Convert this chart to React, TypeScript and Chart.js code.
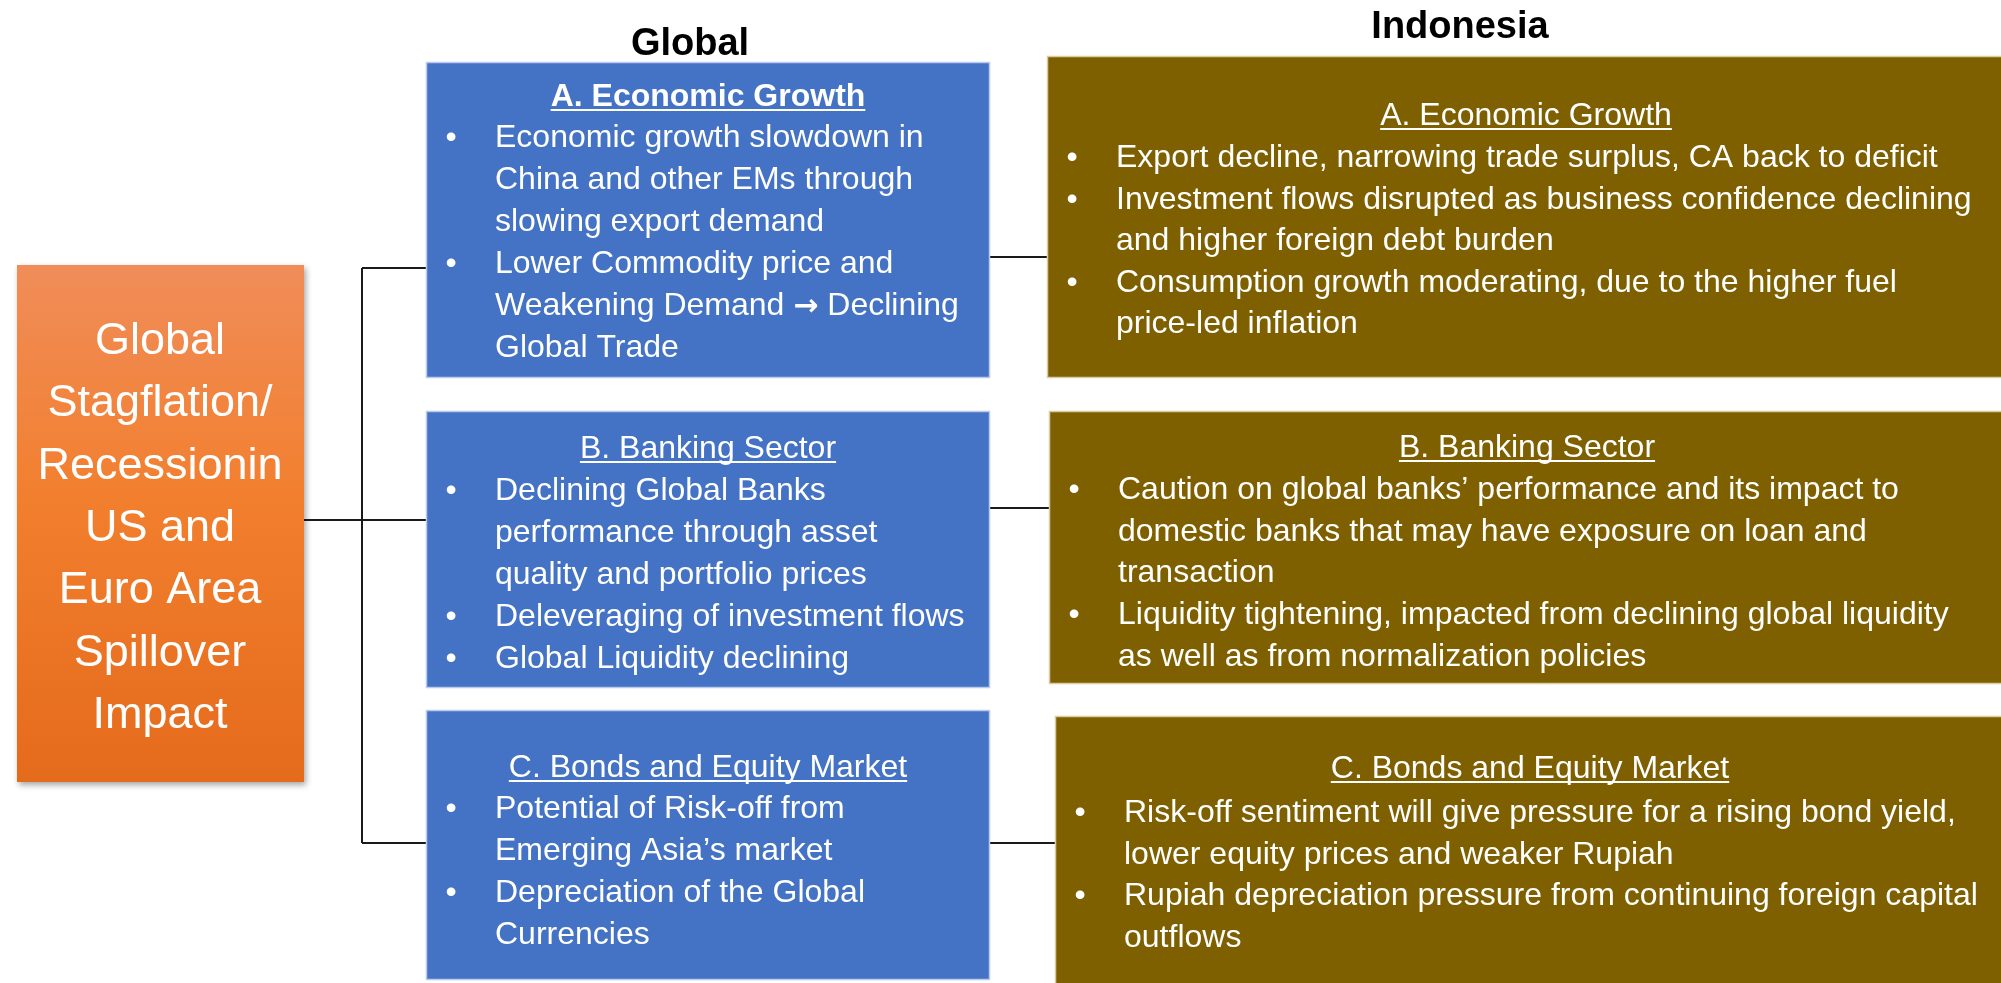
import React, { useEffect, useRef } from "react";
import { Chart, registerables } from "chart.js";

Chart.register(...registerables);

// ---------- DATA (text content of the diagram) ----------
const headerGlobal = "Global";
const headerIndonesia = "Indonesia";

const rootLines = ["Global", "Stagflation/", "Recessionin", "US and", "Euro Area", "Spillover", "Impact"];

const globalTitles = ["A. Economic Growth", "B. Banking Sector", "C. Bonds and Equity Market"];
const globalBulletsA = [
  ["Economic growth slowdown in", "China and other EMs through", "slowing export demand"],
  ["Lower Commodity price and", "Weakening Demand \u2192 Declining", "Global Trade"],
];
const globalBulletsB = [
  ["Declining Global Banks", "performance through asset", "quality and portfolio prices"],
  ["Deleveraging of investment flows"],
  ["Global Liquidity declining"],
];
const globalBulletsC = [
  ["Potential of Risk-off from", "Emerging Asia\u2019s market"],
  ["Depreciation of the Global", "Currencies"],
];

const indoTitles = ["A. Economic Growth", "B. Banking Sector", "C. Bonds and Equity Market"];
const indoBulletsA = [
  ["Export decline, narrowing trade surplus, CA back to deficit"],
  ["Investment flows disrupted as business confidence declining", "and higher foreign debt burden"],
  ["Consumption growth moderating, due to the higher fuel", "price-led inflation"],
];
const indoBulletsB = [
  ["Caution on global banks\u2019 performance and its impact to", "domestic banks that may have exposure on loan and", "transaction"],
  ["Liquidity tightening, impacted from declining global liquidity", "as well as from normalization policies"],
];
const indoBulletsC = [
  ["Risk-off sentiment will give pressure for a rising bond yield,", "lower equity prices and weaker Rupiah"],
  ["Rupiah depreciation pressure from continuing foreign capital", "outflows"],
];

// ---------- LAYOUT & STYLE ----------
const W = 2001;
const H = 983;
const FONT = '"Liberation Sans", Arial, sans-serif';
const ARROW_FONT = '"DejaVu Sans", sans-serif';

const ROOT = { x0: 17, y0: 265, x1: 304, y1: 782, cx: 160, base: 354, lh: 62.3, size: 45 };

type Box = { x0: number; y0: number; x1: number; y1: number; titleBase: number; firstBase: number; lh: number; boldTitle: boolean };

const GLOBAL_BOXES: Box[] = [
  { x0: 427, y0: 63, x1: 989, y1: 377, titleBase: 106, firstBase: 147, lh: 42, boldTitle: true },
  { x0: 427, y0: 412, x1: 989, y1: 687, titleBase: 458, firstBase: 500, lh: 42, boldTitle: false },
  { x0: 427, y0: 711, x1: 989, y1: 979, titleBase: 777, firstBase: 818, lh: 42, boldTitle: false },
];
const INDO_BOXES: Box[] = [
  { x0: 1048, y0: 57, x1: 2008, y1: 377, titleBase: 125, firstBase: 167, lh: 41.5, boldTitle: false },
  { x0: 1050, y0: 412, x1: 2008, y1: 683, titleBase: 457, firstBase: 499, lh: 41.7, boldTitle: false },
  { x0: 1056, y0: 717, x1: 2008, y1: 995, titleBase: 778, firstBase: 822, lh: 41.7, boldTitle: false },
];

const CONNECT_V = { x: 362, y0: 268, y1: 843 };
const CONNECT_H = [
  { x0: 362, x1: 427, y: 268 },
  { x0: 304, x1: 427, y: 520 },
  { x0: 362, x1: 427, y: 843 },
  { x0: 989, x1: 1048, y: 257 },
  { x0: 989, x1: 1050, y: 508 },
  { x0: 989, x1: 1056, y: 843 },
];

const BLUE = "#4472C4";
const BLUE_EDGE = "#B9CAEA";
const GOLD = "#7F6000";
const GOLD_EDGE = "#D9CCA3";

const TEXT_SIZE = 32;
const HEADER_SIZE = 38;

const diagramPlugin = {
  id: "diagram",
  afterDraw(chart: any) {
    const { ctx, scales } = chart;
    const X = (v: number) => scales.x.getPixelForValue(v);
    const Y = (v: number) => scales.y.getPixelForValue(v);
    ctx.save();

    // connectors
    ctx.strokeStyle = "#1a1a1a";
    ctx.lineWidth = 2;
    ctx.beginPath();
    ctx.moveTo(X(CONNECT_V.x), Y(CONNECT_V.y0));
    ctx.lineTo(X(CONNECT_V.x), Y(CONNECT_V.y1));
    CONNECT_H.forEach((h) => {
      ctx.moveTo(X(h.x0), Y(h.y));
      ctx.lineTo(X(h.x1), Y(h.y));
    });
    ctx.stroke();

    // root box with gradient and shadow
    ctx.save();
    const g = ctx.createLinearGradient(0, Y(ROOT.y0), 0, Y(ROOT.y1));
    g.addColorStop(0, "#F08D59");
    g.addColorStop(0.45, "#F27F2E");
    g.addColorStop(1, "#E46B1B");
    ctx.shadowColor = "rgba(0,0,0,0.35)";
    ctx.shadowBlur = 6;
    ctx.shadowOffsetX = 2;
    ctx.shadowOffsetY = 3;
    ctx.fillStyle = g;
    ctx.fillRect(X(ROOT.x0), Y(ROOT.y0), X(ROOT.x1) - X(ROOT.x0), Y(ROOT.y1) - Y(ROOT.y0));
    ctx.restore();

    ctx.fillStyle = "#FFFFFF";
    ctx.textAlign = "center";
    ctx.textBaseline = "alphabetic";
    ctx.font = `${ROOT.size}px ${FONT}`;
    rootLines.forEach((ln, i) => {
      ctx.fillText(ln, X(ROOT.cx), Y(ROOT.base + i * ROOT.lh));
    });

    // headers
    ctx.fillStyle = "#000000";
    ctx.font = `bold ${HEADER_SIZE}px ${FONT}`;
    ctx.fillText(headerGlobal, X(690), Y(55));
    ctx.fillText(headerIndonesia, X(1460), Y(38));

    // draws a left-aligned line; the arrow glyph gets a bolder font like the original
    const drawLine = (text: string, x: number, y: number) => {
      const parts = text.split("\u2192");
      let cx = x;
      parts.forEach((p, i) => {
        ctx.font = `${TEXT_SIZE}px ${FONT}`;
        ctx.fillText(p, cx, y);
        cx += ctx.measureText(p).width;
        if (i < parts.length - 1) {
          ctx.font = `bold ${TEXT_SIZE - 2}px ${ARROW_FONT}`;
          ctx.fillText("\u2192", cx, y);
          cx += ctx.measureText("\u2192").width;
        }
      });
      ctx.font = `${TEXT_SIZE}px ${FONT}`;
    };

    const drawBox = (b: Box, fill: string, edge: string, title: string, bullets: string[][]) => {
      const x0 = X(b.x0), y0 = Y(b.y0), x1 = X(b.x1), y1 = Y(b.y1);
      ctx.fillStyle = fill;
      ctx.fillRect(x0, y0, x1 - x0, y1 - y0);
      ctx.strokeStyle = edge;
      ctx.lineWidth = 1.5;
      ctx.strokeRect(x0 - 0.5, y0 - 0.5, x1 - x0 + 1, y1 - y0 + 1);

      ctx.fillStyle = "#FFFFFF";
      ctx.strokeStyle = "#FFFFFF";
      // title, centered, underlined
      ctx.font = `${b.boldTitle ? "bold " : ""}${TEXT_SIZE}px ${FONT}`;
      ctx.textAlign = "center";
      const cx = X((b.x0 + Math.min(b.x1, 2004)) / 2);
      const ty = Y(b.titleBase);
      ctx.fillText(title, cx, ty);
      const tw = ctx.measureText(title).width;
      ctx.lineWidth = 2;
      ctx.beginPath();
      ctx.moveTo(cx - tw / 2, ty + 4);
      ctx.lineTo(cx + tw / 2, ty + 4);
      ctx.stroke();

      // bullets
      ctx.font = `${TEXT_SIZE}px ${FONT}`;
      let line = 0;
      bullets.forEach((lines) => {
        ctx.textAlign = "center";
        ctx.fillText("\u2022", X(b.x0 + 24), Y(b.firstBase + line * b.lh));
        ctx.textAlign = "left";
        lines.forEach((ln) => {
          drawLine(ln, X(b.x0 + 68), Y(b.firstBase + line * b.lh));
          line++;
        });
      });
    };

    const gb = [globalBulletsA, globalBulletsB, globalBulletsC];
    GLOBAL_BOXES.forEach((b, i) => drawBox(b, BLUE, BLUE_EDGE, globalTitles[i], gb[i]));
    const ib = [indoBulletsA, indoBulletsB, indoBulletsC];
    INDO_BOXES.forEach((b, i) => drawBox(b, GOLD, GOLD_EDGE, indoTitles[i], ib[i]));

    ctx.restore();
  },
};

export default function App() {
  const ref = useRef<HTMLCanvasElement | null>(null);
  useEffect(() => {
    document.body.style.margin = "0";
    const canvas = ref.current;
    if (!canvas) return;
    const chart = new Chart(canvas, {
      type: "scatter",
      data: { datasets: [{ data: [] }] },
      options: {
        responsive: false,
        animation: false,
        devicePixelRatio: 1,
        events: [],
        layout: { padding: 0 },
        plugins: { legend: { display: false }, tooltip: { enabled: false } },
        scales: {
          x: { type: "linear", min: 0, max: W, display: false },
          y: { type: "linear", min: 0, max: H, reverse: true, display: false },
        },
      },
      plugins: [diagramPlugin],
    } as any);
    return () => chart.destroy();
  }, []);
  return (
    <div style={{ width: W, height: H, overflow: "hidden", background: "#FFFFFF" }}>
      <canvas ref={ref} width={W} height={H} style={{ display: "block", width: W, height: H }} />
    </div>
  );
}
